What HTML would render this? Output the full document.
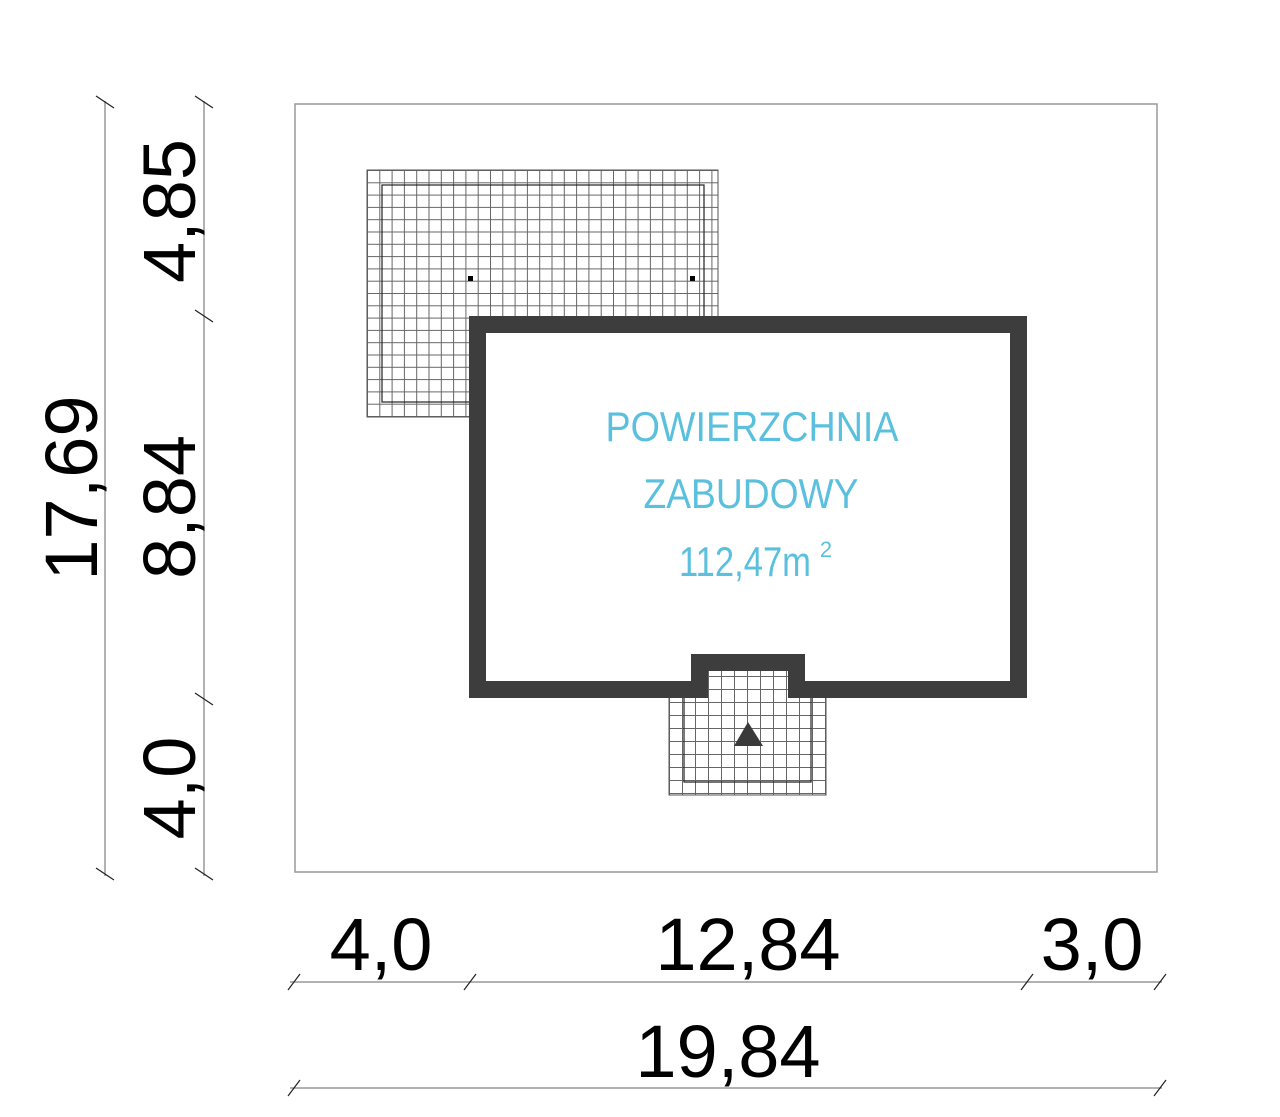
<!DOCTYPE html>
<html><head><meta charset="utf-8"><style>html,body{margin:0;padding:0;background:#fff}svg{display:block}</style></head>
<body>
<svg width="1280" height="1117" viewBox="0 0 1280 1117" xmlns="http://www.w3.org/2000/svg">
<defs>
<pattern id="g1" x="367" y="170" width="12.3" height="12.3" patternUnits="userSpaceOnUse">
<path d="M0 0.5H13M0.5 0V13" stroke="#666" stroke-width="1" fill="none"/>
</pattern>
<pattern id="g2" x="669" y="676" width="13" height="13" patternUnits="userSpaceOnUse">
<path d="M0 0.5H13M0.5 0V13" stroke="#666" stroke-width="1" fill="none"/>
</pattern>
</defs>
<rect x="295" y="104" width="862" height="768" fill="none" stroke="#999" stroke-width="1.5"/>
<!-- terrace -->
<rect x="367" y="170" width="351" height="247" fill="url(#g1)" stroke="#555"/>
<rect x="382" y="185" width="322" height="217" fill="none" stroke="#222" stroke-width="1.2"/>
<rect x="690" y="276" width="5" height="5" fill="#000"/>
<rect x="468" y="276" width="5" height="5" fill="#000"/>
<!-- entrance -->
<rect x="669" y="676" width="157" height="119" fill="url(#g2)" stroke="#555"/>
<path d="M684 690V782H811V690" fill="none" stroke="#222" stroke-width="1.2"/>
<!-- building -->
<rect x="486" y="333" width="524" height="348" fill="#fff"/>
<rect x="708" y="671" width="80" height="27" fill="url(#g2)"/>
<path d="M469 316H1027V698H788V671H708V698H469Z M486 333H1010V681H805V654H691V681H486Z" fill="#3d3d3d" fill-rule="evenodd"/>
<polygon points="748,722 734,746 763,746" fill="#3a3a3a"/>
<g font-family="Liberation Sans, sans-serif" fill="#5bc0de" font-size="42" text-anchor="middle">
<text x="752" y="441" textLength="293" lengthAdjust="spacingAndGlyphs">POWIERZCHNIA</text>
<text x="751" y="508" textLength="215" lengthAdjust="spacingAndGlyphs">ZABUDOWY</text>
<text x="745" y="576" textLength="132" lengthAdjust="spacingAndGlyphs">112,47m</text>
<text x="826" y="557" font-size="22">2</text>
</g>
<!-- dimension lines -->
<g stroke="#999" stroke-width="1.5">
<line x1="105" y1="101" x2="105" y2="876"/>
<line x1="204" y1="101" x2="204" y2="876"/>
<line x1="290" y1="982" x2="1162" y2="982"/>
<line x1="290" y1="1088" x2="1162" y2="1088"/>
</g>
<g stroke="#222" stroke-width="1.2">
<path d="M96 96L114 108M96 868L114 880M195 96L213 108M195 310L213 322M195 693L213 705M195 868L213 880"/>
<path d="M288 990L300 974M464 990L476 974M1021 990L1033 974M1154 990L1166 974M288 1096L300 1080M1154 1096L1166 1080"/>
</g>
<g font-family="Liberation Sans, sans-serif" font-size="74" fill="#000" text-anchor="middle">
<text transform="translate(97,488) rotate(-90)">17,69</text>
<text transform="translate(195,211) rotate(-90)">4,85</text>
<text transform="translate(195,507) rotate(-90)">8,84</text>
<text transform="translate(195,788) rotate(-90)">4,0</text>
<text x="381" y="970">4,0</text>
<text x="748" y="970">12,84</text>
<text x="1092" y="970">3,0</text>
<text x="728" y="1077">19,84</text>
</g>
</svg>
</body></html>
